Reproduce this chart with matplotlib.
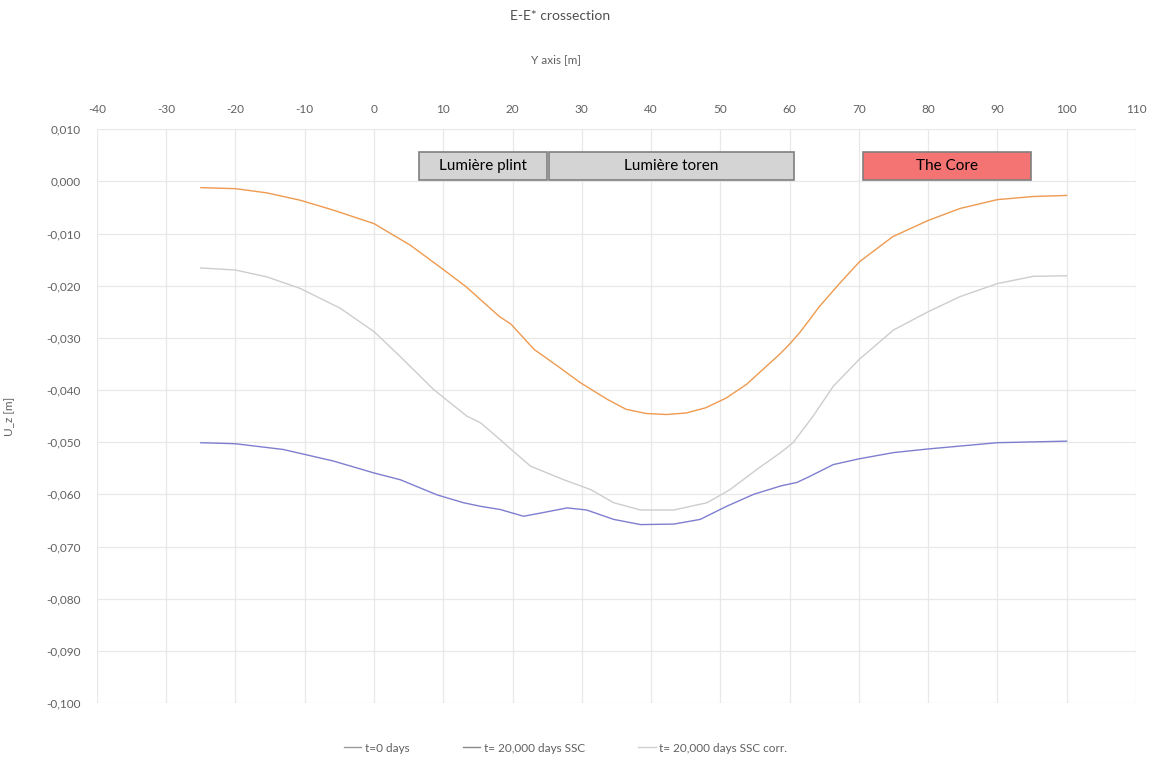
import numpy as np
import matplotlib
matplotlib.use('Agg')
import matplotlib.pyplot as plt
from matplotlib.patches import Rectangle
from matplotlib.lines import Line2D

plt.rcParams['font.family'] = ['Lato', 'DejaVu Sans']
plt.rcParams['axes.unicode_minus'] = False

# t=0 days
x_t0 = [-25, -20, -15.5, -10.7, -5.9, 0, 5.2, 9.5, 13.3, 15.4, 18.1, 19.8, 23.1, 26.5, 29.8, 33.7,
        36.4, 39.3, 42.2, 45.1, 47.9, 50.9, 53.8, 55.7, 58.6, 60, 61.4, 62.9, 64.3, 67.2, 70.1,
        74.9, 80, 84.6, 90, 95.2, 100]
y_t0 = [-0.0012, -0.0014, -0.0022, -0.0036, -0.0055, -0.0081, -0.0122, -0.0164, -0.0202, -0.0227,
        -0.0259, -0.0274, -0.0322, -0.0354, -0.0386, -0.0418, -0.0437, -0.0445, -0.0447, -0.0444,
        -0.0434, -0.0415, -0.0389, -0.0366, -0.0331, -0.0312, -0.0291, -0.0265, -0.0240, -0.0196,
        -0.0154, -0.0106, -0.0075, -0.0052, -0.0035, -0.0029, -0.0027]

# t= 20,000 days SSC
x_ssc = [-25, -20, -13.1, -5.9, 0, 3.8, 9.1, 12.9, 15.4, 18.2, 21.6, 24, 27.9, 30.7, 34.6, 38.5,
         43.3, 47.1, 50.9, 54.8, 58.7, 61.1, 63, 66.3, 70, 75, 80, 90, 100]
y_ssc = [-0.0501, -0.0503, -0.0514, -0.0536, -0.0559, -0.0572, -0.0601, -0.0616, -0.0623, -0.0629,
         -0.0642, -0.0636, -0.0626, -0.0630, -0.0648, -0.0658, -0.0657, -0.0648, -0.0623, -0.0600,
         -0.0584, -0.0577, -0.0565, -0.0543, -0.0532, -0.0520, -0.0513, -0.0501, -0.0498]

# t= 20,000 days SSC corr.
x_corr = [-25, -20, -15.5, -10.7, -4.9, 0, 3.8, 8.6, 13.4, 15.4, 18.2, 19.3, 22.6, 27.4, 31.3, 34.6,
          38.5, 43.3, 48.1, 51.4, 55.3, 58.7, 60.5, 63.4, 66.3, 70, 75, 80, 84.6, 90, 95.2, 100]
y_corr = [-0.0166, -0.0170, -0.0183, -0.0205, -0.0243, -0.0288, -0.0336, -0.0399, -0.0450, -0.0463,
          -0.0495, -0.0508, -0.0546, -0.0572, -0.0591, -0.0616, -0.0630, -0.0630, -0.0616, -0.0591,
          -0.0552, -0.0520, -0.0501, -0.0450, -0.0393, -0.0342, -0.0285, -0.0250, -0.0221, -0.0196,
          -0.0182, -0.0181]

series_names = ['t=0 days', 't= 20,000 days SSC', 't= 20,000 days SSC corr.']

# building blocks drawn above the curves
zones = ['Lumière plint', 'Lumière toren', 'The Core']
zone_start = [6.5, 25.2, 70.6]
zone_end = [25.0, 60.6, 94.8]
zone_colors = ['#D4D4D4', '#D4D4D4', '#F47373']

fig = plt.figure(figsize=(11.54, 7.6), dpi=100)
ax = fig.add_axes([0.084, 0.075, 0.9003, 0.755])

ax.plot(x_t0, y_t0, color='#EE9A50', lw=1.0)
ax.plot(x_corr, y_corr, color='#CDCDCD', lw=1.0)
ax.plot(x_ssc, y_ssc, color='#7E7ED0', lw=1.0)

for name, a, b, c in zip(zones, zone_start, zone_end, zone_colors):
    ax.add_patch(Rectangle((a, 0.0002), b - a, 0.0054, facecolor=c, edgecolor='#7F7F7F', lw=1.2, zorder=3))
    ax.text((a + b) / 2, 0.0029, name, ha='center', va='center', fontsize=11, color='black', zorder=4)

ax.set_xlim(-40, 110)
ax.set_ylim(-0.100, 0.010)
ax.set_xticks(np.arange(-40, 111, 10))
yt = np.arange(-0.100, 0.0101, 0.010)
ax.set_yticks(yt)
ax.set_yticklabels([f'{v:.3f}'.replace('.', ',').replace('-0,000', '0,000') for v in yt])
ax.xaxis.tick_top()
ax.tick_params(length=0, labelsize=8.5, labelcolor='#606060')
ax.tick_params(axis='x', pad=10)
ax.tick_params(axis='y', pad=12)
ax.grid(True, color='#E8E8E8', lw=0.9)
ax.set_axisbelow(True)
for s in ax.spines.values():
    s.set_visible(False)

ax.set_ylabel('U_z [m]', fontsize=8.5, color='#606060', labelpad=22)
fig.text(556 / 1154, 1 - 60 / 760, 'Y axis [m]', ha='center', va='center', fontsize=8.5, color='#606060')
fig.text(560 / 1154, 1 - 16 / 760, 'E-E* crossection', ha='center', va='center', fontsize=10, color='#505050')

handles = [Line2D([], [], color='#9A9A9A', lw=1), Line2D([], [], color='#8A8A8A', lw=1),
           Line2D([], [], color='#D0D0D0', lw=1)]
fig.legend(handles, series_names, loc='center', bbox_to_anchor=(0.49, 1 - 748 / 760), ncol=3,
           frameon=False, fontsize=8.5, labelcolor='#606060', handlelength=1.5, handletextpad=0.3,
           columnspacing=4.5)

fig.savefig('out.png', dpi=100)
